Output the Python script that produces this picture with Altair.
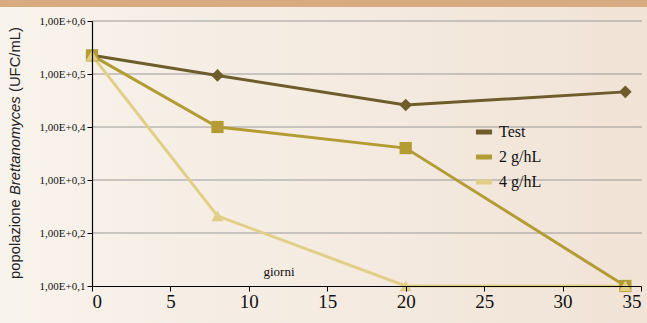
import altair as alt
import pandas as pd

days = [0, 8, 20, 34]
test_vals = [2.25e5, 9.4e4, 2.6e4, 4.6e4]
g2_vals = [2.25e5, 1.0e4, 4.0e3, 10]
g4_vals = [2.25e5, 2.1e2, 10, 10]
series_names = ["Test", "2 g/hL", "4 g/hL"]
series_colors = ["#6e5c2b", "#b39c33", "#e2cf87"]
series_shapes = ["diamond", "square", "triangle-up"]
y_ticks = [10, 100, 1000, 10000, 100000, 1000000]
x_ticks = [0, 5, 10, 15, 20, 25, 30, 35]

rows = []
for name, vals in zip(series_names, [test_vals, g2_vals, g4_vals]):
    for d, v in zip(days, vals):
        rows.append({"giorno": d, "valore": v, "serie": name})
df = pd.DataFrame(rows)
grid_df = pd.DataFrame({"valore": y_ticks[1:]})

W, H = 549, 265
PL, PT = 92, 21

xs = alt.Scale(domain=[0, 35], nice=False, zero=False)
ys = alt.Scale(type="log", domain=[10, 1000000], nice=False)
cs = alt.Scale(domain=series_names, range=series_colors)

xaxis = alt.Axis(values=x_ticks, title=None, grid=False, labelFont="Liberation Serif",
                 labelFontSize=19, labelColor="#111", domainColor="#000",
                 tickColor="#000", tickSize=5, labelPadding=1, domainWidth=1.2, zindex=1)
yaxis = alt.Axis(values=y_ticks, title=None, grid=False, labelFont="Liberation Serif",
                 labelFontSize=11, labelColor="#111", domainColor="#000", tickColor="#000",
                 tickSize=5, labelPadding=2, domainWidth=1.2, zindex=1,
                 labelExpr="'1,00E+0,' + round(log(datum.value)/log(10))")

bg = alt.Chart(pd.DataFrame({"a": [0]})).mark_rect(
    fill=alt.LinearGradient(
        gradient="linear", x1=0, y1=0, x2=1, y2=0,
        stops=[alt.GradientStop(offset=0, color="#f8f3ec"),
               alt.GradientStop(offset=1, color="#f1e3d6")],
    )
).encode(x=alt.value(-PL), x2=alt.value(647 - PL), y=alt.value(-PT), y2=alt.value(323 - PT))

band = alt.Chart(pd.DataFrame({"a": [0]})).mark_rect(fill="#d8aa80").encode(
    x=alt.value(-PL), x2=alt.value(647 - PL), y=alt.value(-PT), y2=alt.value(7 - PT)
)

grid = alt.Chart(grid_df).mark_rule(color="#9a9a9a", strokeWidth=1).encode(
    y=alt.Y("valore:Q", scale=ys, axis=yaxis), x=alt.value(0), x2=alt.value(W + 1)
)

base = alt.Chart(df)

lines = base.mark_line(strokeWidth=3).encode(
    x=alt.X("giorno:Q", scale=xs, axis=xaxis),
    y=alt.Y("valore:Q", scale=ys, axis=yaxis),
    color=alt.Color("serie:N", scale=cs, sort=series_names,
                    legend=alt.Legend(title=None, orient="none", legendX=381, legendY=100,
                                      symbolType="stroke", symbolStrokeWidth=5, symbolSize=260,
                                      labelFont="Liberation Serif", labelFontSize=16,
                                      labelColor="#111", rowPadding=4, labelOffset=4)),
    order="giorno:Q",
)

lines_layers = [lines.transform_filter(alt.datum.serie == n) for n in series_names]

points = []
for name, color, shape in zip(series_names, series_colors, series_shapes):
    sz = 160 if shape == "diamond" else 150
    points.append(
        base.transform_filter(alt.datum.serie == name).mark_point(
            shape=shape, filled=True, opacity=1, size=sz, color=color
        ).encode(x=alt.X("giorno:Q", scale=xs, axis=xaxis), y=alt.Y("valore:Q", scale=ys, axis=yaxis))
    )

ttl = pd.DataFrame({"a": [0]})
FS = 14.8
t1 = alt.Chart(ttl).mark_text(text="popolazione ", angle=270, align="left", baseline="middle",
                              font="Liberation Sans", fontSize=FS, color="#222").encode(
    x=alt.value(-76), y=alt.value(258))
t2 = alt.Chart(ttl).mark_text(text="Brettanomyces", angle=270, align="left", baseline="middle",
                              font="Liberation Sans", fontSize=FS, fontStyle="italic", color="#222").encode(
    x=alt.value(-76), y=alt.value(174))
t3 = alt.Chart(ttl).mark_text(text="(UFC/mL)", angle=270, align="left", baseline="middle",
                              font="Liberation Sans", fontSize=FS, color="#222").encode(
    x=alt.value(-76), y=alt.value(71))
gior = alt.Chart(ttl).mark_text(text="giorni", align="center", baseline="middle",
                                font="Liberation Serif", fontSize=13, color="#111").encode(
    x=alt.value(187), y=alt.value(251))

chart = alt.layer(bg, band, grid, *lines_layers, *points, t1, t2, t3, gior).properties(
    width=W, height=H,
    autosize=alt.AutoSizeParams(type="none"),
    padding={"left": PL, "top": PT, "right": 647 - PL - W, "bottom": 323 - PT - H},
    background="#f5ece3",
).configure_view(stroke=None)

chart.save("out.html", embed_options={"renderer": "svg", "actions": False})
